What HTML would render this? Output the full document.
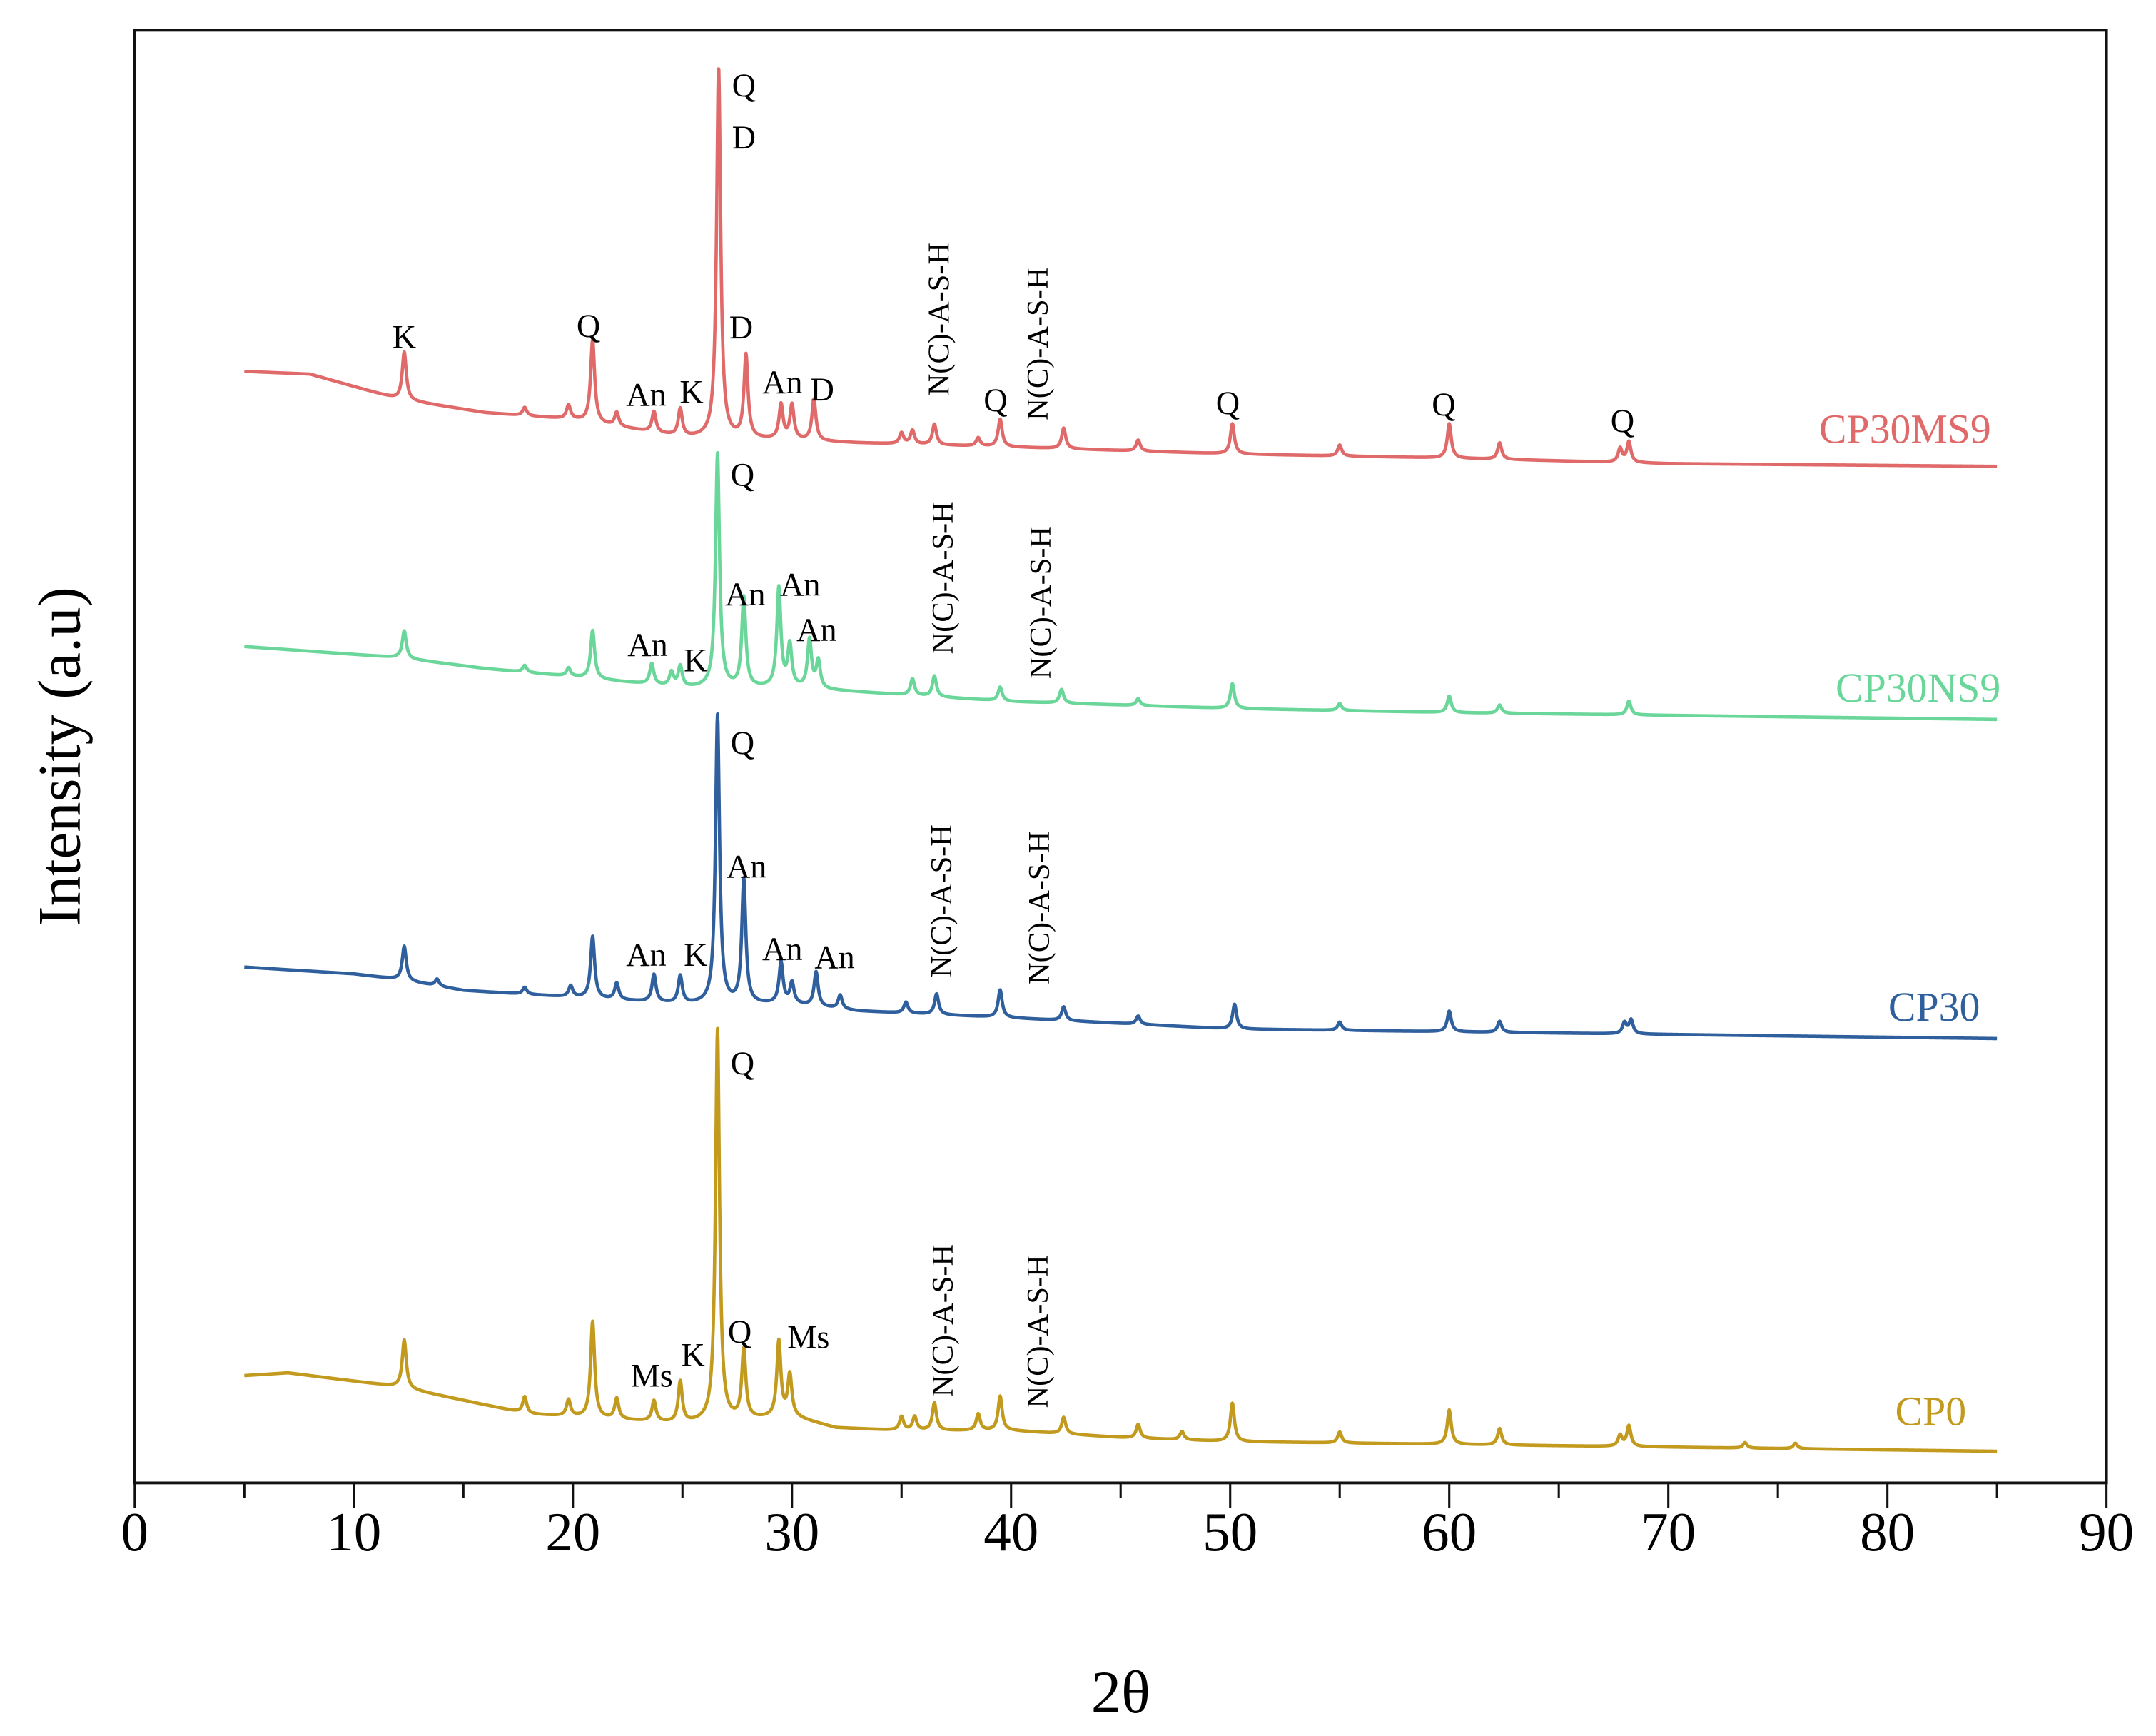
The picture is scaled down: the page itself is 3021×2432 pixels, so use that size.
<!DOCTYPE html>
<html><head><meta charset="utf-8"><style>
html,body{margin:0;padding:0;background:#fff;}
svg{display:block;}
text{font-family:"Liberation Serif",serif;}
</style></head><body>
<svg id="chart" width="3021" height="2432" viewBox="0 0 1568 1262" preserveAspectRatio="none" xmlns="http://www.w3.org/2000/svg">
<rect x="0" y="0" width="1568" height="1262" fill="#fff"/>
<g id="series"></g>
<rect x="98" y="22" width="1434" height="1056" fill="none" stroke="#111" stroke-width="2"/>
<g id="xaxis"></g>
<text x="815" y="1245" font-size="44" text-anchor="middle">2θ</text>
<text transform="translate(58,550) rotate(-90)" font-size="44" text-anchor="middle">Intensity (a.u)</text>
<g id="labels"></g>
</svg>
<script>
const xTicks=[0,10,20,30,40,50,60,70,80,90];
const seriesNames=["CP30MS9","CP30NS9","CP30","CP0"];
const seriesColors=["#e06a6a","#6ad69a","#2f5f9c","#c29a1e"];
// baselines: [2θ, intensity (a.u., from plot bottom)]
const baseCP30MS9=[[5,808],[8,806],[12,788],[16,778],[20,773],[25,760],[30,758],[33,756],[40,753],[50,748],[60,745],[70,741],[85,739]];
const baseCP30NS9=[[5,608],[12,600],[16,592],[20,586],[25,578],[30,578],[35,573],[40,568],[50,563],[60,560],[70,558],[85,555]];
const baseCP30=[[5,375],[10,370],[12,366],[15,358],[20,353],[25,348],[30,348],[33,343],[40,338],[50,330],[60,328],[70,326],[85,323]];
const baseCP0=[[5,78],[7,80],[10,74],[12,70],[15,60],[18,50],[20,48],[25,43],[30,48],[32,40],[35,38],[40,38],[45,33],[50,30],[60,28],[70,26],[85,23]];
// peaks: [2θ, height]
const peaksCP30MS9=[[12.3,35],[17.8,6],[19.8,10],[20.9,60],[22,10],[23.7,15],[24.9,20],[26.65,270],[27.9,60],[29.5,25],[30.0,25],[31.0,30],[35,8],[35.5,10],[36.5,15],[38.5,6],[39.5,20],[42.4,15],[45.8,8],[50.1,22],[55,8],[60,25],[62.3,12],[67.8,10],[68.2,15]];
const peaksCP30NS9=[[12.3,20],[17.8,5],[19.8,6],[20.9,35],[23.6,15],[24.5,10],[24.9,15],[26.6,170],[27.8,65],[29.4,72],[29.9,30],[30.8,35],[31.2,20],[35.5,12],[36.5,15],[39.5,10],[42.3,10],[45.8,5],[50.1,18],[55,5],[60,12],[62.3,6],[68.2,10]];
const peaksCP30=[[12.3,25],[13.8,5],[17.8,5],[19.9,8],[20.9,45],[22,12],[23.7,20],[24.9,20],[26.6,210],[27.8,90],[29.5,30],[30,15],[31.1,25],[32.2,10],[35.2,8],[36.6,15],[39.5,20],[42.4,10],[45.8,6],[50.2,18],[55,6],[60,15],[62.3,8],[68,8],[68.3,10]];
const peaksCP0=[[12.3,35],[17.8,12],[19.8,12],[20.9,70],[22,15],[23.7,15],[24.9,30],[26.6,285],[27.8,50],[29.4,55],[29.9,30],[35,10],[35.6,10],[36.5,20],[38.5,12],[39.5,25],[42.4,12],[45.8,10],[47.8,6],[50.1,28],[55,8],[60,25],[62.3,12],[67.8,8],[68.2,15],[73.5,4],[75.8,4]];
const allBases=[baseCP30MS9,baseCP30NS9,baseCP30,baseCP0];
const allPeaks=[peaksCP30MS9,peaksCP30NS9,peaksCP30,peaksCP0];
const NS="http://www.w3.org/2000/svg";
const X0=98,X1=1532,YB=1078;
function xs(v){return X0+(v-0)/(90-0)*(X1-X0);}
function ys(v){return YB-v;}
function baseAt(b,x){for(let i=0;i<b.length-1;i++){if(x<=b[i+1][0]){const t=(x-b[i][0])/(b[i+1][0]-b[i][0]);return b[i][1]+t*(b[i+1][1]-b[i][1]);}}return b[b.length-1][1];}
const sg=document.getElementById('series');
allBases.forEach((b,si)=>{
  const pk=allPeaks[si];let d="";
  for(let x=5;x<=85.0001;x+=0.02){
    let y=baseAt(b,x);
    pk.forEach(p=>{const w=0.11;const u=(x-p[0])/w;y+=p[1]/(1+u*u);});
    d+=(d?"L":"M")+xs(x).toFixed(2)+","+ys(y).toFixed(2);
  }
  const path=document.createElementNS(NS,'path');
  path.setAttribute('d',d);path.setAttribute('fill','none');
  path.setAttribute('stroke',seriesColors[si]);path.setAttribute('stroke-width','2.4');
  path.setAttribute('stroke-linejoin','round');
  
  
  sg.appendChild(path);
});
const xa=document.getElementById('xaxis');
for(let v=0;v<=90;v+=5){
  const major=v%10===0;
  const l=document.createElementNS(NS,'line');
  l.setAttribute('x1',xs(v));l.setAttribute('x2',xs(v));l.setAttribute('y1',YB);l.setAttribute('y2',YB+(major?18:11));
  l.setAttribute('stroke','#111');l.setAttribute('stroke-width','1.6');
  
  
  xa.appendChild(l);
}
xTicks.forEach(v=>{
  const t=document.createElementNS(NS,'text');
  t.setAttribute('x',xs(v));t.setAttribute('y',1127);t.setAttribute('font-size','40');t.setAttribute('text-anchor','middle');
  t.textContent=v;
  
  
  xa.appendChild(t);
});
const lg=document.getElementById('labels');
const names=[["CP30MS9",1448,322,0],["CP30NS9",1455,510,1],["CP30",1440,742,2],["CP0",1430,1036,3]];
names.forEach(n=>{
  const t=document.createElementNS(NS,'text');
  t.setAttribute('x',n[1]);t.setAttribute('y',n[2]);t.setAttribute('font-size','30');t.setAttribute('text-anchor','end');t.setAttribute('fill',seriesColors[n[3]]);
  t.textContent=n[0];
  
  
  lg.appendChild(t);
});
const ann=[["K",294,253],["Q",428,245],["An",470,295],["K",503,293],["Q",541,70],["D",541,108],["D",539,246],["An",569,286],["D",598,291],["Q",724,299],["Q",893,301],["Q",1050,302],["Q",1180,314],
["Q",540,353],["An",542,440],["An",582,433],["An",594,466],["An",471,477],["K",506,488],
["Q",540,548],["An",543,638],["An",470,702],["K",506,702],["An",569,698],["An",607,704],
["Q",540,781],["Ms",474,1008],["K",504,993],["Q",538,976],["Ms",588,980]];
ann.forEach(a=>{
  const t=document.createElementNS(NS,'text');
  t.setAttribute('x',a[1]);t.setAttribute('y',a[2]);t.setAttribute('font-size','24');t.setAttribute('text-anchor','middle');
  t.textContent=a[0];
  
  
  lg.appendChild(t);
});
const vann=[[683,232],[755,250],[686,420],[757,438],[685,655],[756,660],[686,960],[755,968]];
vann.forEach(a=>{
  const t=document.createElementNS(NS,'text');
  t.setAttribute('transform','translate('+(a[0]+7)+','+a[1]+') rotate(-90)');t.setAttribute('font-size','22');t.setAttribute('text-anchor','middle');
  t.textContent="N(C)-A-S-H";
  
  
  lg.appendChild(t);
});
</script>
</body></html>
